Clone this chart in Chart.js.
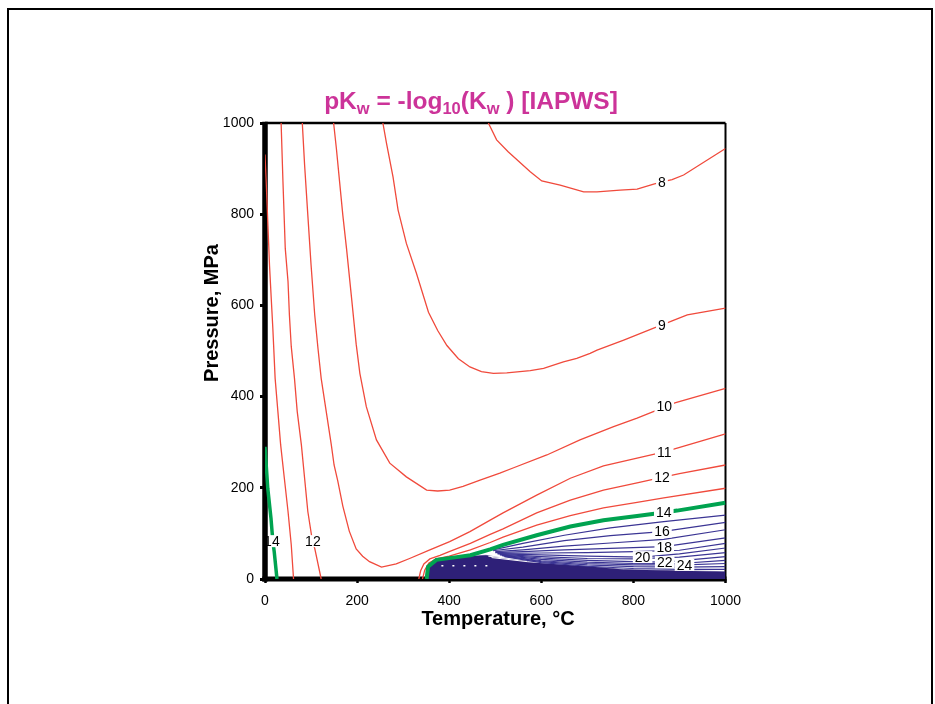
<!DOCTYPE html>
<html><head><meta charset="utf-8">
<script src="https://cdn.jsdelivr.net/npm/chart.js@4.4.1/dist/chart.umd.min.js"></script>
<style>
html,body{margin:0;padding:0;background:#fff;}
#wrap{position:relative;width:935px;height:704px;overflow:hidden;}
#frame{position:absolute;left:7px;top:8px;width:922px;height:720px;border:2px solid #000;border-bottom:none;}
canvas{position:absolute;left:0;top:0;}
</style></head><body>
<div id="wrap"><div id="frame"></div><canvas id="c" width="935" height="704"></canvas></div>
<script>
// Axis ticks
const tempTicks = [0, 200, 400, 600, 800, 1000];
const pressTicks = [0, 200, 400, 600, 800, 1000];

// pKw isolines as [temperature °C, pressure MPa]
const pk8  = [[485,1000],[503,963],[528,937],[576,893],[601,873],[641,864],[692,849],[721,849],[771,853],[808,855],[844,866],[862,871],[884,876],[909,886],[1000,944]];
const pk9  = [[256,1000],[264,955],[278,882],[289,809],[307,736],[329,670],[355,585],[375,545],[395,512],[420,483],[445,465],[470,455],[496,451],[525,452],[576,457],[605,462],[648,476],[677,484],[706,495],[721,502],[779,524],[844,550],[862,557],[884,566],[917,579],[1000,594]];
const pk10 = [[149,1000],[155,944],[162,871],[169,798],[177,725],[188,616],[198,515],[206,451],[220,378],[242,305],[271,254],[307,224],[351,195],[375,193],[401,195],[430,203],[467,217],[510,232],[540,244],[612,272],[684,305],[757,334],[808,353],[850,370],[867,377],[890,386],[1000,418]];
const pk11 = [[81,1000],[86,908],[93,798],[100,689],[108,579],[115,506],[122,440],[133,367],[144,294],[150,250],[158,215],[169,160],[183,105],[198,66],[212,50],[227,38],[253,26],[285,33],[314,45],[358,64],[401,82],[445,104],[489,129],[517,145],[590,184],[663,221],[735,248],[808,265],[867,279],[895,287],[1000,318]];
const pk12L = [[35,1000],[39,871],[44,725],[50,652],[53,579],[57,510],[64,440],[70,367],[79,294],[86,221],[93,148],[103,83],[108,67],[122,0]];
const pk12R = [[334,0],[338,18],[345,33],[358,44],[380,52],[400,60],[446,78],[489,98],[517,110],[590,145],[663,173],[735,195],[808,211],[862,223],[900,231],[1000,250]];
const pk13L = [[0,931],[2.6,871],[6.3,776],[9.8,688],[13.5,616],[17,550],[19,506],[22,440],[28,367],[34,294],[42,221],[50,148],[57,75],[62,0]];
const pk13R = [[342,0],[347,20],[356,35],[372,44],[400,50],[446,64],[489,80],[517,92],[590,118],[663,139],[735,156],[808,168],[866,178],[1000,199]];
const pk14L = [[0,290],[6,199],[13,133],[17,83],[20,60],[26,0]];
const pk14R = [[351,0],[354,27],[372,42],[416,48],[446,52],[489,65],[517,75],[590,96],[663,115],[735,129],[808,138],[866,146],[895,150],[1000,167]];
const pk15 = [[495,64],[560,78],[650,96],[750,112],[866,126],[1000,140]];
const pk16 = [[495,62],[560,70],[650,84],[750,95],[862,104],[1000,124]];
const pk17 = [[500,60],[560,64],[650,72],[750,79],[866,87],[1000,108]];
const pk18 = [[500,58],[560,60],[650,64],[750,67],[867,71],[1000,90]];
const pk19 = [[505,56],[600,57],[700,58],[800,60],[900,63],[1000,78]];
const pk20 = [[505,55],[600,53],[700,50],[820,48],[900,55],[1000,68]];
const pk21 = [[510,54],[600,49],[700,45],[800,44],[900,48],[1000,58]];
const pk22 = [[510,53],[600,46],[700,41],[800,38],[868,37],[1000,49]];
const pk23 = [[515,52],[600,43],[700,37],[800,34],[900,34],[1000,41]];
const pk24 = [[515,51],[600,40],[700,34],[800,31],[911,31],[1000,34]];
const pk25 = [[520,50],[600,38],[700,31],[800,27],[900,26],[1000,27]];
const pk26 = [[520,49],[600,36],[700,28],[800,23],[900,21],[1000,21]];
// densely packed high-pKw isolines merge into a solid region
const pkHigh = [[354,0],[354,27],[372,40],[416,46],[446,50],[480,52],[520,45],[600,36],[663,31],[779,21],[900,18],[1000,16]];
// light gaps between the packed isolines
const gapA = [[485,50],[550,43],[650,37],[760,31]];
const gapB = [[492,47],[570,38],[670,31],[790,26]];
const gapC = [[383,29],[483,29]];

// isoline labels
const labelText = ['8','9','10','11','12','14','16','18','20','22','24','14','12'];
const labelT    = [862,862,867,867,862,866,862,867,820,868,911,15,104];
const labelP    = [871,557,378,279,223,146,104,70,48,37,31,83,83];

const RED = '#f04a3c', GREEN = '#00a350', BLUE = '#3b3594', NAVY = '#2e2078';
const FONT = "'Liberation Sans', Arial, sans-serif";

const pts = a => a.map(p => ({x: p[0], y: p[1]}));
function line(data, color, width, order, extra) {
  return Object.assign({data: pts(data), showLine: true, borderColor: color, backgroundColor: color,
    borderWidth: width, pointRadius: 0, tension: 0, fill: false, order: order}, extra || {});
}

const datasets = [
  line(pk14L, GREEN, 3.5, 0), line(pk14R, GREEN, 4, 0),
  line(pk8, RED, 1.3, 1), line(pk9, RED, 1.3, 1), line(pk10, RED, 1.3, 1), line(pk11, RED, 1.3, 1),
  line(pk12L, RED, 1.3, 1), line(pk12R, RED, 1.3, 1), line(pk13L, RED, 1.3, 1), line(pk13R, RED, 1.3, 1),
  ...[pk15,pk16,pk17,pk18,pk19,pk20,pk21,pk22,pk23,pk24,pk25,pk26].map(d => line(d, BLUE, 1.2, 2)),
  line(gapA, '#ffffff', 1, 3), line(gapB, '#ffffff', 1, 3),
  line(gapC, '#ffffff', 1.5, 3, {borderDash: [2, 9]}),
  line(pkHigh, NAVY, 0.5, 4, {fill: 'origin', backgroundColor: NAVY})
];

const framePlugin = {
  id: 'frame',
  beforeDatasetsDraw(chart) {
    const {ctx, chartArea: a} = chart;
    ctx.save();
    ctx.strokeStyle = '#000';
    ctx.lineWidth = 2.5;
    ctx.beginPath(); ctx.moveTo(a.left, a.top); ctx.lineTo(a.right, a.top); ctx.stroke();
    ctx.lineWidth = 2;
    ctx.beginPath(); ctx.moveTo(a.right, a.top); ctx.lineTo(a.right, a.bottom); ctx.stroke();
    ctx.lineWidth = 5.5;
    ctx.beginPath(); ctx.moveTo(a.left, a.top - 1.2); ctx.lineTo(a.left, a.bottom + 2.5); ctx.stroke();
    ctx.lineWidth = 5;
    ctx.beginPath(); ctx.moveTo(a.left - 2.7, a.bottom); ctx.lineTo(a.right + 1, a.bottom); ctx.stroke();
    ctx.restore();
  }
};

const labelPlugin = {
  id: 'isoLabels',
  afterDatasetsDraw(chart) {
    const {ctx, chartArea: a, scales: {x, y}} = chart;
    ctx.save();
    ctx.font = '14px ' + FONT;
    ctx.textAlign = 'center';
    ctx.textBaseline = 'middle';
    labelText.forEach((t, i) => {
      const px = x.getPixelForValue(labelT[i]);
      const py = y.getPixelForValue(labelP[i]);
      const w = ctx.measureText(t).width;
      const l = Math.max(px - w / 2 - 2, a.left + 3);
      ctx.fillStyle = '#fff';
      ctx.fillRect(l, py - 6, px + w / 2 + 2 - l, 12);
      ctx.fillStyle = '#000';
      ctx.fillText(t, px, py + 1);
    });
    ctx.restore();
  }
};

const textPlugin = {
  id: 'texts',
  afterDraw(chart) {
    const ctx = chart.ctx;
    ctx.save();
    // title with subscripts
    const parts = [['pK', 0], ['w', 1], [' = -log', 0], ['10', 1], ['(K', 0], ['w', 1], [' ) [IAPWS]', 0]];
    const big = 'bold 24.5px ' + FONT, small = 'bold 16.5px ' + FONT;
    let total = 0;
    parts.forEach(p => { ctx.font = p[1] ? small : big; total += ctx.measureText(p[0]).width; });
    let cx = 471 - total / 2;
    ctx.fillStyle = '#cc3399';
    ctx.textBaseline = 'alphabetic';
    ctx.textAlign = 'left';
    parts.forEach(p => {
      ctx.font = p[1] ? small : big;
      ctx.fillText(p[0], cx, p[1] ? 114 : 108.5);
      cx += ctx.measureText(p[0]).width;
    });
    // axis titles
    ctx.fillStyle = '#000';
    ctx.font = 'bold 20px ' + FONT;
    ctx.textAlign = 'center';
    ctx.textBaseline = 'middle';
    ctx.fillText('Temperature, \u00b0C', 498, 619);
    ctx.translate(212, 313);
    ctx.rotate(-Math.PI / 2);
    ctx.fillText('Pressure, MPa', 0, 0);
    ctx.restore();
  }
};

new Chart(document.getElementById('c'), {
  type: 'scatter',
  data: {datasets},
  options: {
    responsive: false,
    animation: false,
    events: [],
    layout: {padding: {left: 0, right: 209.5, top: 123, bottom: 0}},
    plugins: {legend: {display: false}, tooltip: {enabled: false}, title: {display: false}},
    scales: {
      x: {
        type: 'linear', min: tempTicks[0], max: tempTicks[tempTicks.length - 1],
        afterFit: s => { s.height = 125; },
        afterBuildTicks: s => { s.ticks = tempTicks.map(v => ({value: v})); },
        ticks: {color: '#000', font: {size: 14, family: FONT}, padding: 10, maxRotation: 0, callback: v => String(v)},
        grid: {drawOnChartArea: false, drawTicks: true, tickLength: 4, tickWidth: 2.5, tickColor: '#000'},
        border: {display: false}
      },
      y: {
        type: 'linear', min: pressTicks[0], max: pressTicks[pressTicks.length - 1],
        afterFit: s => { s.width = 265; },
        afterBuildTicks: s => { s.ticks = pressTicks.map(v => ({value: v})); },
        ticks: {color: '#000', font: {size: 14, family: FONT}, padding: 6, callback: v => String(v)},
        grid: {drawOnChartArea: false, drawTicks: true, tickLength: 5, tickWidth: 3, tickColor: '#000'},
        border: {display: false}
      }
    }
  },
  plugins: [framePlugin, labelPlugin, textPlugin]
});
</script>
</body></html>
